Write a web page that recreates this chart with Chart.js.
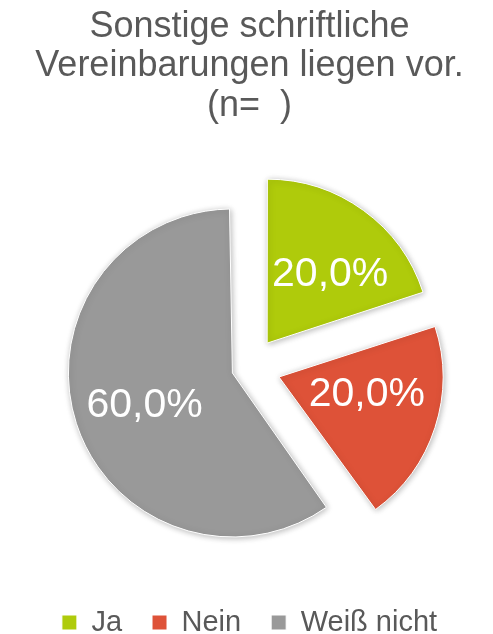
<!DOCTYPE html>
<html>
<head>
<meta charset="utf-8">
<script src="https://cdn.jsdelivr.net/npm/chart.js@4.4.1/dist/chart.umd.min.js"></script>
<style>
  html, body { margin: 0; padding: 0; background: #ffffff; }
  #wrap { width: 493px; height: 634px; }
</style>
</head>
<body>
<div id="wrap"><canvas id="myChart" width="493" height="634"></canvas></div>
<script>
// chart data
const titleLines = ['Sonstige schriftliche', 'Vereinbarungen liegen vor.', '(n=  )'];
const categories = ['Ja', 'Nein', 'Weiß nicht'];
const shares = [20, 20, 60];
const sliceColors = ['#afcb0b', '#de5238', '#999999'];
const sliceOffsets = [120, 124, 72];

const fontFamily = "'Liberation Sans', Arial, sans-serif";
const textGrey = '#595959';

// how much chart.js grows a slice radius because of its offset
const radiusGrowth = (el) => {
    const off = (el.options.offset || 0) / 4;
    const fix = 1 - Math.sin(Math.min(Math.PI, el.circumference));
    return off * fix;
};

// arc offset also grows the radius of wide slices, undo that so all slices keep one radius
const keepRadiusPlugin = {
    id: 'keepRadius',
    afterDatasetUpdate(chart, args) {
        args.meta.data.forEach(el => {
            el.outerRadius = el.outerRadius - radiusGrowth(el);
        });
    }
};

// soft shadow under slices + percent labels inside
const sliceLabelPlugin = {
    id: 'sliceLabels',
    beforeDatasetsDraw(chart) {
        const ctx = chart.ctx;
        ctx.save();
        ctx.shadowColor = 'rgba(0,0,0,0.28)';
        ctx.shadowBlur = 6;
        ctx.shadowOffsetX = 1;
        ctx.shadowOffsetY = 1;
    },
    afterDatasetsDraw(chart, args, opts) {
        const ctx = chart.ctx;
        ctx.restore();
        const meta = chart.getDatasetMeta(0);
        const total = shares.reduce((a, b) => a + b, 0);
        ctx.save();
        ctx.fillStyle = '#ffffff';
        ctx.font = opts.size + 'px ' + fontFamily;
        ctx.textAlign = 'center';
        ctx.textBaseline = 'middle';
        meta.data.forEach((arc, i) => {
            const half = (arc.startAngle + arc.endAngle) / 2;
            const visibleRadius = arc.outerRadius + radiusGrowth(arc);
            const r = (arc.options.offset || 0) / 4 + visibleRadius * 0.55;
            const nudge = opts.nudge[i] || [0, 0];
            const x = arc.x + Math.cos(half) * r + nudge[0];
            const y = arc.y + Math.sin(half) * r + nudge[1];
            const txt = (shares[i] / total * 100).toFixed(1).replace('.', ',') + '%';
            ctx.fillText(txt, x, y);
        });
        ctx.restore();
    }
};

const ctx = document.getElementById('myChart');

new Chart(ctx, {
    type: 'pie',
    data: {
        labels: categories,
        datasets: [{
            data: shares,
            backgroundColor: sliceColors,
            borderColor: '#ffffff',
            borderWidth: 1,
            offset: sliceOffsets,
            radius: 164
        }]
    },
    options: {
        responsive: false,
        animation: false,
        layout: {
            padding: { left: 6, right: 0, top: 0, bottom: -13 }
        },
        plugins: {
            title: {
                display: true,
                text: titleLines,
                color: textGrey,
                font: { family: fontFamily, size: 36, weight: 'normal', lineHeight: 1.1 },
                padding: { top: 7, bottom: 31 }
            },
            legend: {
                position: 'bottom',
                labels: {
                    color: textGrey,
                    font: { family: fontFamily, size: 29 },
                    boxWidth: 15,
                    boxHeight: 15,
                    padding: 30
                }
            },
            sliceLabels: {
                size: 41,
                nudge: [[10, 5], [2, -10], [-2, 5]]
            },
            tooltip: { enabled: false }
        }
    },
    plugins: [keepRadiusPlugin, sliceLabelPlugin]
});
</script>
</body>
</html>
